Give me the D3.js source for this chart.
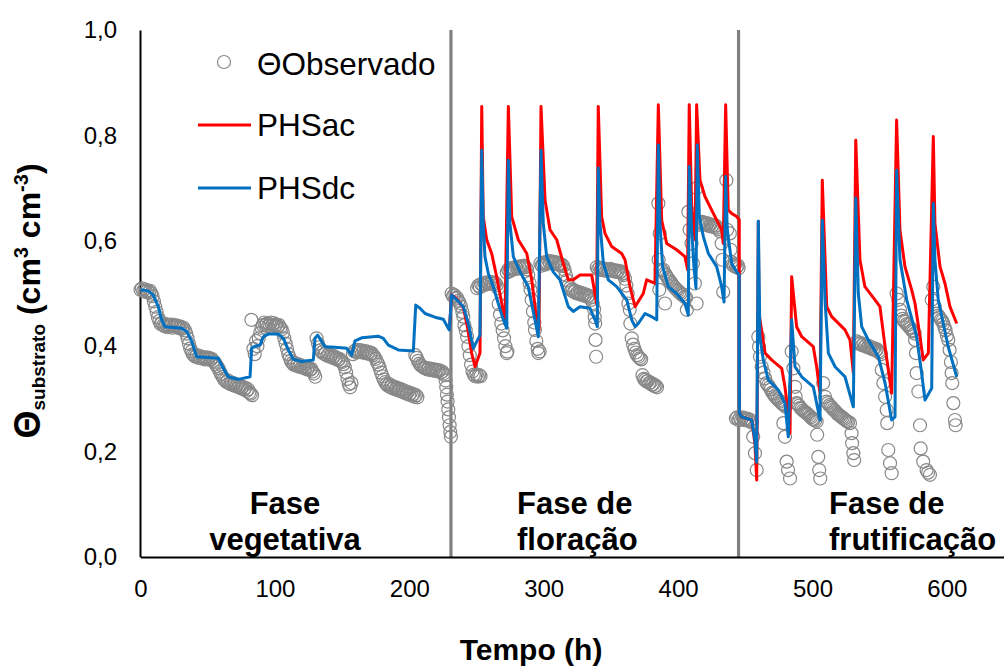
<!DOCTYPE html>
<html><head><meta charset="utf-8">
<script src="https://cdn.jsdelivr.net/npm/d3@7/dist/d3.min.js"></script>
<style>
html,body{margin:0;padding:0;background:#fff;}
svg{display:block;font-family:"Liberation Sans",Arial,Helvetica,sans-serif;}
</style></head>
<body>
<svg id="chart" width="1004" height="668"></svg>
<script>
// ---------------- DATA ----------------
const xTicks = [0, 100, 200, 300, 400, 500, 600];
const yTicks = [0, 0.2, 0.4, 0.6, 0.8, 1.0];
const phaseBounds = [231, 445];
const seriesNames = ["\u0398Observado", "PHSac", "PHSdc"];

// Observed substrate moisture (h, cm3 cm-3)
const obsPoints = [
[0,0.507],[1,0.51],[2,0.505],[3,0.508],[4,0.503],[5,0.506],[6,0.502],[7,0.505],[8,0.5],[9,0.495],[10,0.485],[11,0.475],[12,0.465],[13,0.455],[14,0.448],[15,0.442],[16,0.445],[17,0.44],[18,0.438],[19,0.442],[20,0.436],[21,0.44],[22,0.437],[23,0.441],[24,0.435],[25,0.438],[26,0.44],[27,0.436],[28,0.438],[29,0.434],[30,0.437],[31,0.433],[32,0.435],[33,0.43],[34,0.424],[35,0.415],[36,0.405],[37,0.396],[38,0.39],[39,0.385],[40,0.382],[41,0.38],[42,0.383],[43,0.378],[44,0.381],[45,0.377],[46,0.38],[47,0.378],[48,0.375],[49,0.379],[50,0.376],[51,0.378],[52,0.374],[53,0.376],[54,0.372],[55,0.37],[56,0.366],[57,0.362],[58,0.358],[59,0.352],[60,0.347],[61,0.342],[62,0.338],[63,0.335],[64,0.332],[65,0.335],[66,0.33],[67,0.328],[68,0.331],[69,0.326],[70,0.329],[71,0.324],[72,0.327],[73,0.322],[74,0.325],[75,0.32],[76,0.323],[77,0.318],[78,0.321],[79,0.315],[80,0.318],[81,0.312],[82,0.31],[83,0.307],[82.5,0.45],[84,0.395],[85,0.385],[86,0.41],[87,0.4],[88,0.415],[89,0.425],[90,0.435],[91,0.44],[92,0.445],[93,0.44],[94,0.443],[95,0.438],[96,0.442],[97,0.445],[98,0.44],[99,0.444],[100,0.438],[101,0.441],[102,0.437],[103,0.44],[104,0.435],[105,0.432],[106,0.425],[107,0.415],[108,0.405],[109,0.395],[110,0.385],[111,0.378],[112,0.372],[113,0.368],[114,0.365],[115,0.368],[116,0.363],[117,0.366],[118,0.361],[119,0.364],[120,0.36],[121,0.362],[122,0.358],[123,0.361],[124,0.356],[125,0.359],[126,0.355],[127,0.357],[128,0.352],[129,0.348],[130,0.342],[131,0.415],[132,0.405],[133,0.398],[134,0.392],[135,0.388],[136,0.39],[137,0.385],[138,0.388],[139,0.382],[140,0.385],[141,0.38],[142,0.383],[143,0.378],[144,0.381],[145,0.376],[146,0.378],[147,0.374],[148,0.376],[149,0.372],[150,0.37],[151,0.366],[152,0.36],[153,0.35],[154,0.338],[155,0.328],[156,0.322],[157,0.33],[158,0.385],[159,0.39],[160,0.392],[161,0.388],[162,0.393],[163,0.389],[164,0.392],[165,0.388],[166,0.391],[167,0.387],[168,0.39],[169,0.386],[170,0.389],[171,0.385],[172,0.387],[173,0.383],[174,0.38],[175,0.376],[176,0.37],[177,0.365],[178,0.358],[179,0.35],[180,0.343],[181,0.337],[182,0.332],[183,0.328],[184,0.325],[185,0.328],[186,0.322],[187,0.325],[188,0.32],[189,0.323],[190,0.318],[191,0.321],[192,0.316],[193,0.319],[194,0.314],[195,0.317],[196,0.312],[197,0.315],[198,0.31],[199,0.313],[200,0.308],[201,0.311],[202,0.306],[203,0.309],[204,0.304],[205,0.307],[206,0.303],[204.5,0.383],[205.5,0.378],[206.5,0.372],[207.5,0.367],[208.5,0.364],[209.5,0.362],[210.5,0.36],[211.5,0.358],[212.5,0.359],[213.5,0.356],[214.5,0.358],[215.5,0.355],[216.5,0.357],[217.5,0.354],[218.5,0.356],[219.5,0.353],[220.5,0.355],[221.5,0.352],[222.5,0.354],[223.5,0.35],[224.5,0.352],[225.5,0.348],[226.5,0.345],[227,0.335],[227.5,0.322],[228,0.308],[228.5,0.295],[229,0.28],[229.5,0.265],[230,0.25],[230.5,0.237],[231,0.228],
[231.5,0.5],[232.5,0.495],[233.5,0.497],[234.5,0.49],[235.5,0.492],[236.5,0.486],[237.5,0.482],[238.5,0.475],[239.5,0.465],[240.2,0.456],[241,0.44],[242,0.43],[243,0.418],[244,0.4],[245,0.383],[246,0.365],[247,0.352],[248,0.346],[249,0.343],[250,0.346],[251,0.342],[252,0.345],[253,0.343],[250.5,0.51],[251.5,0.515],[252.5,0.512],[253.5,0.518],[255,0.515],[256,0.52],[257,0.517],[258,0.521],[259,0.518],[260,0.522],[261,0.519],[262,0.521],[263,0.518],[264,0.52],[265,0.516],[266,0.51],[266.5,0.48],[267.5,0.46],[268.5,0.443],[269.5,0.43],[270.5,0.415],[271.5,0.4],[272.5,0.387],[273,0.39],[272.5,0.54],[273.5,0.545],[274.5,0.542],[275.5,0.548],[276.5,0.545],[277.5,0.549],[278.5,0.546],[279.5,0.55],[280.5,0.547],[281.5,0.551],[282.5,0.548],[283.5,0.552],[284.5,0.549],[285.5,0.553],[286.5,0.55],[287.5,0.546],[288.5,0.535],[289.5,0.52],[290.2,0.507],[291,0.488],[292,0.466],[293,0.445],[293.5,0.431],[294.5,0.41],[295.5,0.395],[296,0.387],[297,0.39],[297.5,0.557],[298.5,0.553],[299.5,0.556],[300.5,0.559],[301.5,0.555],[302.5,0.558],[303.5,0.562],[304.5,0.558],[305.5,0.561],[306.5,0.557],[307.5,0.56],[308.5,0.556],[309.5,0.559],[310.5,0.555],[311.5,0.557],[312.5,0.553],[313.5,0.555],[314.5,0.552],[315.5,0.545],[316.5,0.535],[317.5,0.525],[318.5,0.515],[319.5,0.51],[320.5,0.506],[321.5,0.508],[322.5,0.503],[323.5,0.505],[324.5,0.5],[325.5,0.503],[326.5,0.499],[327.5,0.501],[328.5,0.497],[329.5,0.5],[330.5,0.496],[331.5,0.498],[332.5,0.494],[333.5,0.496],[334.5,0.492],[335.5,0.488],[336.5,0.482],[337.5,0.47],[338,0.455],[338.3,0.443],[338.6,0.412],[339,0.38],
[339.5,0.55],[340.5,0.546],[341.5,0.549],[342.5,0.545],[343.5,0.548],[344.5,0.544],[345.5,0.547],[346.5,0.543],[347.5,0.546],[348.5,0.544],[349.5,0.547],[350.5,0.543],[351.5,0.545],[352.5,0.542],[353.5,0.544],[354.5,0.541],[355.5,0.543],[356.5,0.54],[357.5,0.542],[358.5,0.538],[359.5,0.535],[360.5,0.528],[361.5,0.515],[362.5,0.5],[363,0.481],[364,0.469],[364.5,0.443],[365.5,0.415],[366.5,0.403],[367.5,0.395],[368.5,0.388],[369.5,0.383],[370.5,0.38],[371.5,0.377],[372.5,0.375],[373.5,0.345],[374.5,0.338],[375.5,0.336],[376.5,0.333],[377.5,0.334],[378.5,0.33],[379.5,0.331],[380.5,0.327],[381.5,0.328],[382.5,0.324],[383.5,0.325],[384.3,0.322],
[385.3,0.671],[386.3,0.614],[385.5,0.564],[386,0.507],[387,0.545],[388,0.543],[389,0.545],[390,0.538],[390.3,0.481],[391,0.535],[392,0.53],[393,0.527],[394,0.523],[395,0.52],[396,0.516],[397,0.513],[398,0.51],[399,0.507],[400,0.505],[401,0.502],[402,0.5],[403,0.497],[404,0.498],[405,0.494],[406,0.492],[406.5,0.469],
[407.6,0.655],[408.5,0.621],[410,0.595],[411,0.557],[412.5,0.519],[413.8,0.481],[413.8,0.7],
[415,0.63],[416,0.635],[417,0.632],[418,0.636],[419,0.631],[420,0.634],[421,0.63],[422,0.633],[423,0.628],[424,0.631],[425,0.627],[426,0.63],[427,0.626],[428,0.629],[429,0.625],[430,0.622],[431,0.618],[432.4,0.595],[433,0.564],[433.6,0.503],[435.9,0.715],[436.5,0.621],[438.5,0.614],[439,0.583],[439.5,0.56],[440.5,0.555],[441.5,0.552],[442.5,0.556],[443.5,0.55],[444.5,0.553],[445,0.548],
[443,0.263],[444,0.265],[445,0.26],[446,0.264],[447,0.261],[448,0.265],[449,0.26],[450,0.263],[451,0.259],[452,0.262],[453,0.258],[454,0.26],[455,0.255],[455.9,0.228],[457.2,0.197],[458.5,0.165],[459.7,0.418],[460.2,0.399],[460.9,0.38],[462.2,0.361],[463.5,0.35],[464.7,0.339],[465.9,0.33],[467,0.326],[468,0.322],[469,0.318],[470,0.312],[471,0.31],[472,0.305],[473,0.303],[474,0.3],[475,0.297],[476,0.295],[477,0.292],[478,0.29],[479,0.288],[480,0.285],[478.3,0.254],[479.5,0.228],[480.8,0.181],[481.8,0.165],[483.3,0.149],[484.5,0.39],[485.8,0.358],[487,0.323],[487.5,0.304],[488.2,0.292],[489,0.29],[490,0.287],[491,0.283],[492,0.281],[493,0.278],[494,0.276],[495,0.274],[496,0.272],[497,0.27],[498,0.267],[499,0.265],[500,0.262],[501,0.261],[502,0.259],[503.1,0.257],[503.5,0.232],[504.3,0.19],[505,0.165],[505.8,0.149],[508,0.33],[509.3,0.304],[510.6,0.295],[511.5,0.292],[512.5,0.288],[513.5,0.286],[514.5,0.283],[515.5,0.28],[516.5,0.278],[517.5,0.275],[518.5,0.272],[519.5,0.27],[520.5,0.268],[521.5,0.266],[522.5,0.264],[523.5,0.262],[524.5,0.26],[525.5,0.258],[526.5,0.256],[527.9,0.254],[529.1,0.235],[529.5,0.216],[530.4,0.197],[531,0.184],[532.9,0.409],[534,0.407],[535,0.404],[536,0.406],[537,0.402],[538,0.404],[539,0.4],[540,0.402],[541,0.398],[542,0.4],[543,0.396],[544,0.398],[545,0.394],[546,0.396],[547,0.392],[548,0.394],[549,0.39],[550,0.388],[551,0.385],[551.5,0.355],[552.7,0.33],[554,0.304],[555.2,0.279],[555.6,0.254],[556.4,0.203],[557.7,0.178],[558.9,0.159],[562.6,0.5],[563.9,0.488],[565.1,0.469],[566,0.458],[567,0.452],[568,0.448],[569,0.446],[570,0.442],[571,0.44],[572,0.436],[573,0.434],[574,0.43],[575,0.428],[576,0.424],[576.3,0.412],[577,0.387],[577.5,0.349],[578.8,0.314],[580,0.25],[580.5,0.206],[582.4,0.181],[584.9,0.165],[586,0.16],[587.4,0.156],[588.7,0.488],[589.9,0.513],[591,0.475],[592.4,0.462],[593.5,0.458],[594.5,0.455],[595.5,0.45],[596.5,0.448],[597.3,0.443],[598.2,0.436],[599,0.43],[600,0.42],[601,0.412],[602,0.393],[603,0.37],[603.5,0.349],[604,0.33],[604.8,0.292],[606,0.26],[606.5,0.25]
];

// PHSac model (h, theta)
const phsacPoints = [
[229.8,0.431],[231.5,0.497],[235.3,0.49],[240.2,0.473],[243,0.44],[246.4,0.387],[248.9,0.361],[252.6,0.387],[253.9,0.855],[255,0.646],[257.6,0.602],[261.3,0.576],[265,0.532],[268.8,0.481],[271.2,0.443],[273.7,0.855],[276.2,0.646],[281.1,0.602],[287.4,0.576],[291.1,0.526],[294.8,0.45],[296.5,0.431],[298,0.855],[301,0.677],[304.7,0.621],[309.7,0.602],[314.6,0.557],[318.3,0.526],[322,0.526],[327,0.535],[335.7,0.535],[339.4,0.481],[340.6,0.855],[343.1,0.646],[345.6,0.614],[350.6,0.589],[358,0.576],[360.5,0.564],[364.2,0.513],[368,0.475],[374.1,0.5],[376.6,0.526],[382.8,0.519],[385.3,0.858],[387.8,0.639],[391.5,0.595],[398.9,0.583],[405.1,0.57],[407.1,0.545],[408.3,0.858],[410.1,0.665],[412.6,0.602],[413.8,0.858],[416.3,0.715],[420,0.684],[426.2,0.652],[432.4,0.621],[433.6,0.595],[435.4,0.858],[437.3,0.658],[439.9,0.652],[443.6,0.646],[445.5,0.64],[445.6,0.273],[447.3,0.266],[454.8,0.26],[457.2,0.215],[458.5,0.146],[459.7,0.637],[460.2,0.462],[464.7,0.387],[469.6,0.374],[477.1,0.358],[479.5,0.323],[482,0.273],[483.3,0.235],[484.5,0.532],[488.2,0.437],[492,0.418],[500.6,0.399],[503.1,0.361],[505.6,0.311],[507.3,0.715],[510.6,0.475],[514.3,0.456],[524.2,0.431],[527.9,0.412],[530.4,0.349],[532.2,0.791],[535.3,0.564],[539,0.513],[546.5,0.488],[550.2,0.475],[554,0.399],[558.9,0.311],[562.6,0.829],[565.1,0.62],[568.8,0.551],[573.8,0.507],[576.3,0.481],[580,0.418],[582.4,0.374],[586.2,0.387],[589.9,0.798],[591.1,0.633],[594.9,0.551],[598.6,0.519],[602.3,0.475],[607.3,0.443]
];

// PHSdc model (h, theta)
const phsdcPoints = [
[0,0.507],[5.8,0.505],[9.5,0.497],[13.2,0.475],[15.8,0.45],[18.2,0.437],[30.6,0.434],[34.4,0.428],[38.1,0.409],[41.8,0.38],[57.9,0.377],[61.6,0.358],[65.3,0.342],[72.8,0.337],[81.5,0.342],[82.7,0.396],[85.2,0.4],[88.9,0.402],[91.4,0.418],[95.1,0.423],[102.5,0.423],[106.3,0.415],[110,0.393],[113.7,0.375],[119.9,0.371],[128.6,0.374],[129.8,0.415],[131.8,0.421],[134.8,0.409],[137.3,0.399],[144.7,0.398],[153.4,0.396],[157.1,0.383],[159.6,0.41],[164.6,0.416],[176.9,0.419],[180.7,0.415],[184.4,0.402],[191.8,0.393],[203,0.391],[204.8,0.478],[208,0.472],[211.7,0.462],[219.1,0.455],[225.3,0.451],[229,0.434],[229.8,0.431],[231.5,0.497],
[235.3,0.488],[240.2,0.475],[243.9,0.443],[247.6,0.396],[252.6,0.421],[253.9,0.772],[255,0.633],[256.3,0.57],[258.8,0.538],[262.5,0.513],[266.2,0.481],[270,0.45],[272.5,0.434],[273.7,0.753],[274.9,0.633],[277.4,0.57],[282.4,0.541],[288.5,0.513],[293.5,0.45],[296,0.418],[298,0.772],[299.7,0.633],[302.2,0.57],[307.1,0.541],[312.1,0.526],[318.3,0.475],[322,0.466],[327,0.475],[334.4,0.472],[338.2,0.45],[339.9,0.437],[340.6,0.738],[341.9,0.633],[344.4,0.557],[348.1,0.526],[354.3,0.513],[361.8,0.488],[365.5,0.45],[368,0.437],[370.4,0.443],[375.4,0.462],[377.9,0.459],[380.4,0.456],[384.1,0.45],[385.3,0.782],[386.5,0.633],[388.5,0.551],[392.7,0.513],[398.9,0.5],[405.1,0.481],[407.6,0.459],[408.3,0.741],[410.1,0.621],[411.8,0.551],[413.3,0.51],[414.3,0.782],[415.8,0.646],[418.8,0.608],[422.5,0.576],[428.7,0.551],[432.4,0.513],[434.2,0.484],[435.4,0.722],[436.6,0.621],[439.9,0.557],[443.6,0.541],[445.5,0.535],
[445.6,0.273],[447.3,0.266],[454.8,0.26],[457.2,0.222],[458.5,0.18],[459.7,0.637],[460.9,0.418],[463.4,0.374],[467.1,0.336],[474.6,0.317],[479.5,0.292],[482,0.228],[484.5,0.45],[487,0.361],[492,0.342],[500.6,0.323],[505.6,0.26],[507.3,0.639],[509.3,0.488],[511.8,0.387],[516.8,0.361],[524.2,0.342],[530.4,0.285],[532.2,0.681],[534.1,0.5],[536.6,0.437],[541.5,0.412],[549,0.38],[554,0.33],[558.9,0.26],[561.4,0.266],[562.6,0.734],[565.1,0.564],[570.1,0.488],[577.5,0.418],[581.2,0.349],[583.7,0.298],[588.7,0.32],[589.9,0.671],[591.1,0.564],[593.6,0.488],[597.3,0.443],[601,0.399],[607.3,0.342]
];

const phaseLabels = [
  {lines:["Fase","vegetativa"], x:285, anchor:"middle"},
  {lines:["Fase de","floração"], x:517, anchor:"start"},
  {lines:["Fase de","frutificação"], x:829, anchor:"start"}
];

// ---------------- CHART ----------------
const svg = d3.select("#chart");
const x = d3.scaleLinear().domain([0, 642.5]).range([140.5, 1004]);
const y = d3.scaleLinear().domain([0, 1]).range([557, 30]);

const fmt = d => d.toFixed(1).replace(".", ",");

// phase boundary lines
svg.append("g").selectAll("line").data(phaseBounds).join("line")
  .attr("x1", d => x(d)).attr("x2", d => x(d))
  .attr("y1", y(1)).attr("y2", y(0))
  .attr("stroke", "#808080").attr("stroke-width", 3.2);

// axes
const yAxis = svg.append("g").attr("transform", "translate(140,0)")
  .call(d3.axisLeft(y).tickValues(yTicks).tickSize(0).tickPadding(23).tickFormat(fmt));
yAxis.select(".domain").attr("stroke", "#000").attr("stroke-width", 2);
yAxis.selectAll("text").attr("font-size", 24).attr("fill", "#000")
  .attr("font-family", "Liberation Sans, Arial, sans-serif");

const xAxis = svg.append("g").attr("transform", "translate(0,557)")
  .call(d3.axisBottom(x).tickValues(xTicks).tickSize(0).tickPadding(23).tickFormat(d3.format("d")));
xAxis.select(".domain").attr("stroke", "#000").attr("stroke-width", 2);
xAxis.selectAll("text").attr("font-size", 24).attr("fill", "#000")
  .attr("font-family", "Liberation Sans, Arial, sans-serif");

// observed points
svg.append("g").selectAll("circle").data(obsPoints).join("circle")
  .attr("cx", d => x(d[0])).attr("cy", d => y(d[1])).attr("r", 6.5)
  .attr("fill", "none").attr("stroke", "#888888").attr("stroke-width", 1.2);

const line = d3.line().x(d => x(d[0])).y(d => y(d[1]));
svg.append("path").datum(phsacPoints).attr("d", line)
  .attr("fill", "none").attr("stroke", "#ff0000").attr("stroke-width", 3)
  .attr("stroke-linejoin", "round");
svg.append("path").datum(phsdcPoints).attr("d", line)
  .attr("fill", "none").attr("stroke", "#0070c0").attr("stroke-width", 3)
  .attr("stroke-linejoin", "round");

// legend
const lg = svg.append("g").attr("font-size", 31.5).attr("fill", "#000");
lg.append("circle").attr("cx", 224).attr("cy", 62).attr("r", 6.5)
  .attr("fill", "none").attr("stroke", "#888888").attr("stroke-width", 1.2);
lg.append("text").attr("x", 257).attr("y", 75).text(seriesNames[0]);
lg.append("line").attr("x1", 198).attr("x2", 251).attr("y1", 125).attr("y2", 125)
  .attr("stroke", "#ff0000").attr("stroke-width", 3);
lg.append("text").attr("x", 257).attr("y", 136).text(seriesNames[1]);
lg.append("line").attr("x1", 198).attr("x2", 251).attr("y1", 188).attr("y2", 188)
  .attr("stroke", "#0070c0").attr("stroke-width", 3);
lg.append("text").attr("x", 257).attr("y", 199).text(seriesNames[2]);

// phase labels
phaseLabels.forEach(p => {
  const t = svg.append("text").attr("font-size", 31).attr("font-weight", "bold")
    .attr("text-anchor", p.anchor).attr("fill", "#000");
  p.lines.forEach((ln, i) => {
    t.append("tspan").attr("x", p.x).attr("y", 514 + i * 36).text(ln);
  });
});

// axis titles
svg.append("text").attr("x", 531).attr("y", 660).attr("text-anchor", "middle")
  .attr("font-size", 30).attr("font-weight", "bold").text("Tempo (h)");

const yt = svg.append("text").attr("transform", "translate(40,301) rotate(-90)")
  .attr("text-anchor", "middle").attr("font-weight", "bold").attr("fill", "#000");
yt.append("tspan").attr("font-size", 36).text("\u0398");
yt.append("tspan").attr("font-size", 19).attr("dy", 5).text("substrato");
yt.append("tspan").attr("font-size", 32).attr("dy", -5).text(" (cm");
yt.append("tspan").attr("font-size", 20).attr("dy", -12).text("3");
yt.append("tspan").attr("font-size", 32).attr("dy", 12).text(" cm");
yt.append("tspan").attr("font-size", 20).attr("dy", -12).text("-3");
yt.append("tspan").attr("font-size", 32).attr("dy", 12).text(")");
</script>
</body></html>
